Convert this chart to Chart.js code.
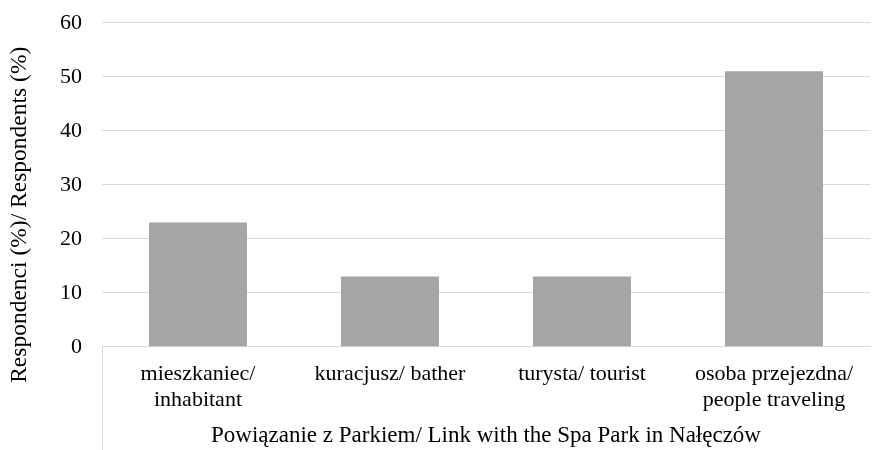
<!DOCTYPE html>
<html>
<head>
<meta charset="utf-8">
<script src="https://cdn.jsdelivr.net/npm/chart.js@4"></script>
<style>
  html, body { margin: 0; padding: 0; background: #fff; }
  #wrap { width: 872px; height: 450px; }
</style>
</head>
<body>
<div id="wrap"><canvas id="linkChart"></canvas></div>
<script>
"use strict"

// data
const categories = [
    ['mieszkaniec/', 'inhabitant'],
    'kuracjusz/ bather',
    'turysta/ tourist',
    ['osoba przejezdna/', 'people traveling']
]
const respondents = [23, 13, 13, 51]
const yTicks = [0, 10, 20, 30, 40, 50, 60]

const xTitle = 'Powiązanie z Parkiem/ Link with the Spa Park in Nałęczów'
const yTitle = 'Respondenci (%)/ Respondents (%)'

const serif = "'Liberation Serif', 'Times New Roman', serif"
const lineGrey = '#d9d9d9'

// the category axis in the original has a divider running down past the labels
let leftDivider = {
    id: 'leftDivider',
    afterDraw(chart) {
        let ctx = chart.ctx
        let area = chart.chartArea
        ctx.save()
        ctx.strokeStyle = lineGrey
        ctx.lineWidth = 1
        ctx.beginPath()
        ctx.moveTo(Math.round(area.left) + 0.5, area.bottom)
        ctx.lineTo(Math.round(area.left) + 0.5, chart.height)
        ctx.stroke()
        ctx.restore()
    }
}

// y title sits a bit lower than the plot centre in the original (Excel style),
// so it is drawn here instead of through scales.y.title
let sideTitle = {
    id: 'sideTitle',
    afterDraw(chart) {
        let ctx = chart.ctx
        let area = chart.chartArea
        let cy = (area.top + area.bottom) / 2 + 30
        ctx.save()
        ctx.translate(20, cy)
        ctx.rotate(-Math.PI / 2)
        ctx.fillStyle = '#000'
        ctx.font = "23.5px " + serif
        ctx.textAlign = 'center'
        ctx.textBaseline = 'middle'
        ctx.fillText(yTitle, 0, 0)
        ctx.restore()
    }
}

let ctx = document.getElementById('linkChart').getContext('2d')
let linkChart = new Chart(ctx, {
    type: 'bar',
    data: {
        labels: categories,
        datasets: [{
            label: yTitle,
            data: respondents,
            backgroundColor: '#a5a5a5',
            borderWidth: 0,
            categoryPercentage: 1,
            barPercentage: 0.51
        }]
    },
    options: {
        responsive: true,
        maintainAspectRatio: false,
        animation: false,
        layout: { padding: { top: 0, right: 2, bottom: 0, left: 40 } },
        plugins: {
            legend: { display: false },
            tooltip: { enabled: false }
        },
        scales: {
            x: {
                grid: { display: false, drawTicks: false, tickLength: 0 },
                border: { display: true, color: lineGrey, width: 1 },
                ticks: {
                    color: '#000',
                    font: { family: serif, size: 22, lineHeight: 1.15 },
                    padding: 15,
                    maxRotation: 0,
                    autoSkip: false
                },
                title: {
                    display: true,
                    text: xTitle,
                    color: '#000',
                    font: { family: serif, size: 23 },
                    padding: { top: -5, bottom: 0 }
                }
            },
            y: {
                min: 0,
                max: 60,
                afterBuildTicks: axis => {
                    axis.ticks = yTicks.map(v => ({ value: v }))
                },
                grid: { color: lineGrey, drawTicks: false, lineWidth: 1 },
                border: { display: false },
                ticks: {
                    color: '#000',
                    // small line height keeps the top label from pushing the plot down
                    font: { family: serif, size: 22, lineHeight: 0.25 },
                    padding: 20
                },
                title: { display: false }
            }
        }
    },
    plugins: [leftDivider, sideTitle]
})
</script>
</body>
</html>
